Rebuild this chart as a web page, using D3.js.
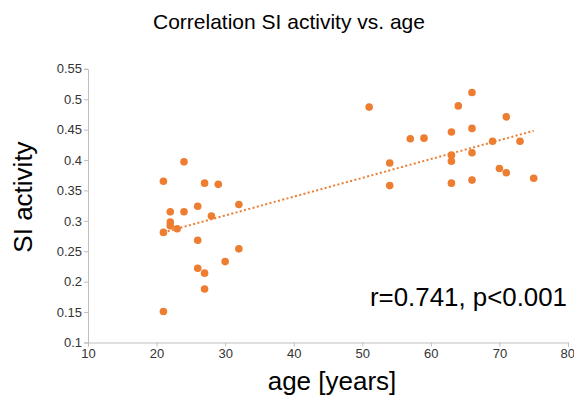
<!DOCTYPE html>
<html><head><meta charset="utf-8">
<script src="https://cdn.jsdelivr.net/npm/d3@7"></script>
<style>body{margin:0;background:#fff;} svg{display:block;font-family:"Liberation Sans",Arial,sans-serif;}</style>
</head><body>
<svg id="c" width="574" height="398"></svg>
<script>
const ages = [21,24,27,29,32,26,22,24,28,22,22,23,21,26,32,30,26,27,27,21,
              51,66,64,71,66,63,57,59,69,73,66,63,63,54,70,71,75,66,63,54];
const activity = [0.365,0.397,0.362,0.360,0.327,0.324,0.315,0.315,0.308,0.298,0.292,0.287,0.281,0.268,0.254,0.233,0.222,0.214,0.188,0.151,
                  0.487,0.511,0.489,0.471,0.452,0.446,0.435,0.436,0.431,0.431,0.412,0.408,0.398,0.395,0.386,0.379,0.370,0.367,0.362,0.358];
const trendX = [21, 75];
const trendY = [0.281, 0.448];
const xTicks = [10,20,30,40,50,60,70,80];
const yTicks = [0.1,0.15,0.2,0.25,0.3,0.35,0.4,0.45,0.5,0.55];

const svg = d3.select("#c");
const x = d3.scaleLinear().domain([10,80]).range([88,568]);
const y = d3.scaleLinear().domain([0.1,0.55]).range([342.5,68.8]);
const orange = "#ED7D31";

const xa = svg.append("g").attr("transform","translate(0,342.5)")
  .call(d3.axisBottom(x).tickValues(xTicks).tickFormat(d3.format("d")).tickSize(4).tickPadding(2));
const ya = svg.append("g").attr("transform","translate(88,0)")
  .call(d3.axisLeft(y).tickValues(yTicks).tickFormat(d=>String(+d.toFixed(2))).tickSize(4).tickPadding(2));
[xa,ya].forEach(a=>{
  a.selectAll("path,line").attr("stroke","#bfbfbf");
  a.selectAll("text").attr("fill","#333").style("font-size","13px").style("font-family","Liberation Sans, Arial, sans-serif");
});
xa.selectAll(".tick").filter(d=>d===80).select("text").attr("text-anchor","end").attr("dx","6.5");

svg.append("line")
  .attr("x1",x(trendX[0])).attr("y1",y(trendY[0]))
  .attr("x2",x(trendX[1])).attr("y2",y(trendY[1]))
  .attr("stroke",orange).attr("stroke-width",2).attr("stroke-dasharray","2,2.4");

svg.append("g").selectAll("circle").data(ages.map((a,i)=>[a,activity[i]])).join("circle")
  .attr("cx",d=>x(d[0])).attr("cy",d=>y(d[1])).attr("r",3.8).attr("fill",orange);

svg.append("text").attr("x",289).attr("y",29).attr("text-anchor","middle")
  .style("font-size","21px").attr("fill","#000").text("Correlation SI activity vs. age");
svg.append("text").attr("transform","translate(32,197) rotate(-90)").attr("text-anchor","middle")
  .style("font-size","26px").attr("fill","#000").text("SI activity");
svg.append("text").attr("x",332).attr("y",390).attr("text-anchor","middle")
  .style("font-size","26px").attr("fill","#000").text("age [years]");
svg.append("text").attr("x",567).attr("y",306).attr("text-anchor","end")
  .style("font-size","25px").attr("textLength",197).attr("lengthAdjust","spacingAndGlyphs")
  .attr("fill","#000").text("r=0.741, p<0.001");
</script>
</body></html>
